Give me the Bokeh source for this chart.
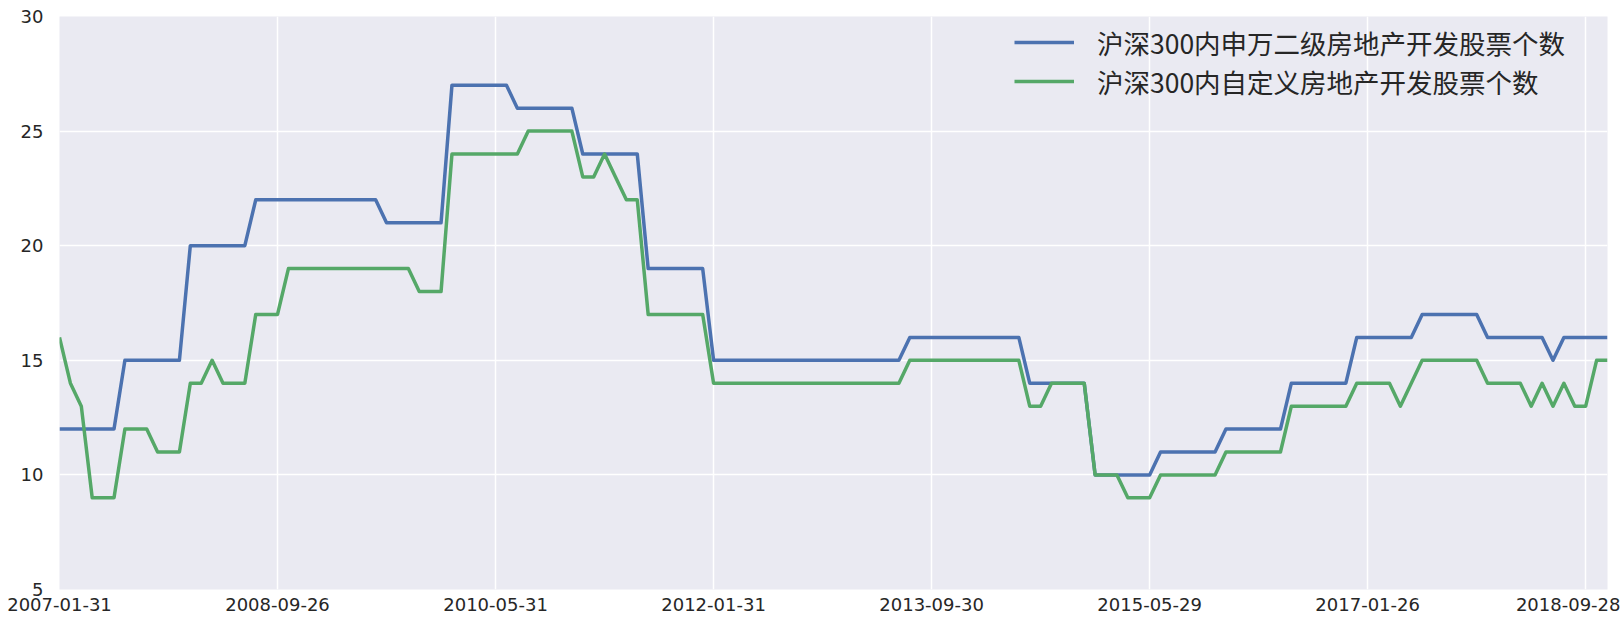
from bokeh.plotting import figure
from bokeh.models import Legend, LegendItem, FixedTicker, ColumnDataSource
from bokeh.embed import file_html
from bokeh.resources import INLINE

# ---- data (monthly, index based x axis) ----
sw_counts = (
    [12] * 6 + [15] * 6 + [20] * 6 + [22] * 12 + [21] * 6 + [27] * 6 +
    [26] * 6 + [24] * 6 + [19] * 6 + [15] * 18 + [16] * 11 + [14] * 6 +
    [10] * 6 + [11] * 6 + [12] * 6 + [14] * 6 + [16] * 6 + [17] * 6 +
    [16] * 6 + [15] + [16] * 5
)
custom_counts = (
    [16, 14, 13] + [9] * 3 + [12] * 3 + [11] * 3 + [14] * 2 + [15] + [14] * 3 +
    [17] * 3 + [19] * 12 + [18] * 3 + [24] * 7 + [25] * 5 + [23] * 2 + [24] +
    [23] + [22] * 2 + [17] * 6 + [14] * 18 + [15] * 11 + [13] * 2 + [14] * 4 +
    [10] * 3 + [9] * 3 + [10] * 6 + [11] * 6 + [13] * 6 + [14] * 4 + [13] +
    [14] + [15] * 6 + [14] * 4 + [13] + [14] + [13] + [14] + [13] * 2 + [15] * 2
)
tick_labels = ["2007-01-31", "2008-09-26", "2010-05-31", "2012-01-31",
               "2013-09-30", "2015-05-29", "2017-01-26", "2018-09-28"]
series_names = ["沪深300内申万二级房地产开发股票个数", "沪深300内自定义房地产开发股票个数"]
y_ticks = [5, 10, 15, 20, 25, 30]

n = len(sw_counts)
idx = list(range(n))
tick_pos = list(range(0, n, 20))[:len(tick_labels)]

src = ColumnDataSource(dict(x=idx, sw=sw_counts, cu=custom_counts[:n]))

p = figure(width=1620, height=630, output_backend="svg", toolbar_location=None,
           x_range=(0, n - 1), y_range=(5, 30),
           min_border_left=59, min_border_right=13, min_border_top=16, min_border_bottom=41)

p.background_fill_color = "#EAEAF2"
p.border_fill_color = "white"
p.outline_line_color = None

for ax in (p.xaxis[0], p.yaxis[0]):
    ax.axis_line_color = None
    ax.major_tick_line_color = None
    ax.minor_tick_line_color = None
    ax.major_tick_out = 0
    ax.major_tick_in = 0
    ax.minor_tick_out = 0
    ax.minor_tick_in = 0
    ax.major_label_text_font = "DejaVu Sans"
    ax.major_label_text_font_size = "18px"
    ax.major_label_text_color = "#262626"

p.xaxis.ticker = FixedTicker(ticks=tick_pos)
p.xaxis.major_label_overrides = {t: lab for t, lab in zip(tick_pos, tick_labels)}
p.xaxis.major_label_standoff = 8
p.yaxis.ticker = FixedTicker(ticks=y_ticks)
p.yaxis.major_label_standoff = 16

p.xgrid.grid_line_color = "white"
p.ygrid.grid_line_color = "white"
p.xgrid.grid_line_width = 1.5
p.ygrid.grid_line_width = 1.5

r1 = p.line("x", "sw", source=src, line_color="#4C72B0", line_width=3.5, line_join="round")
r2 = p.line("x", "cu", source=src, line_color="#55A868", line_width=3.5, line_join="round")

for name, rend, loc in ((series_names[0], r1, (955, 525)), (series_names[1], r2, (955, 486))):
    lg = Legend(items=[LegendItem(label=name, renderers=[rend])], location=loc)
    lg.background_fill_alpha = 0
    lg.border_line_alpha = 0
    lg.padding = 0
    lg.margin = 0
    lg.spacing = 0
    lg.glyph_width = 60
    lg.glyph_height = 44
    lg.label_height = 44
    lg.label_standoff = 23
    lg.label_text_font = "Noto Sans CJK SC"
    lg.label_text_font_size = "26.5px"
    lg.label_text_color = "#262626"
    p.add_layout(lg)

open("out.html", "w").write(file_html(p, INLINE))
